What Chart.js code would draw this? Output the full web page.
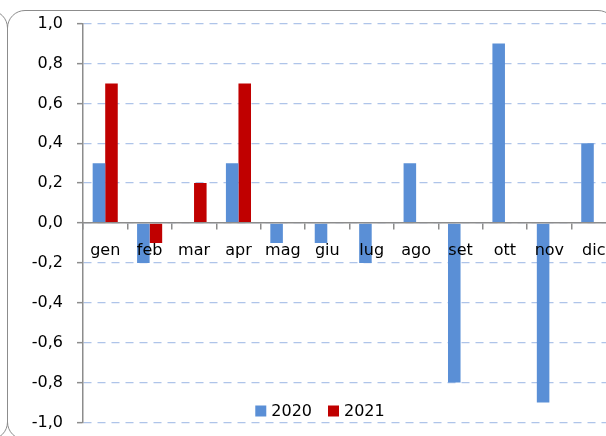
<!DOCTYPE html>
<html>
<head>
<meta charset="utf-8">
<script src="https://cdn.jsdelivr.net/npm/chart.js@4"></script>
<style>
    html, body { margin: 0; padding: 0; background: #fff; overflow: hidden; }
    #stage { position: relative; width: 606px; height: 436px; overflow: hidden; }
    .frame { position: absolute; border: 1.5px solid #8c8c8c; border-radius: 18px; box-sizing: border-box; }
    #frame-left { left: -620px; top: 10px; width: 628px; height: 430px; }
    #frame-main { left: 7px; top: 10px; width: 609px; height: 430px; }
    #chart-box { position: absolute; left: 0; top: 0; width: 640px; height: 446px; }
</style>
</head>
<body>
<div id="stage">
    <div class="frame" id="frame-left"></div>
    <div class="frame" id="frame-main"></div>
    <div id="chart-box"><canvas id="chart"></canvas></div>
</div>
<script>
// Chart data
const months = ['gen', 'feb', 'mar', 'apr', 'mag', 'giu', 'lug', 'ago', 'set', 'ott', 'nov', 'dic'];
const values2020 = [0.3, -0.2, 0, 0.3, -0.1, -0.1, -0.2, 0.3, -0.8, 0.9, -0.9, 0.4];
const values2021 = [0.7, -0.1, 0.2, 0.7, null, null, null, null, null, null, null, null];
const seriesLabels = ['2020', '2021'];
const yTicks = [-1.0, -0.8, -0.6, -0.4, -0.2, 0.0, 0.2, 0.4, 0.6, 0.8, 1.0];

const FONT_FAMILY = '"DejaVu Sans", sans-serif';
const FONT_SIZE = 16;

// Legend drawn inside the plot area, near the bottom
const bottomLegend = {
    id: 'bottomLegend',
    afterDraw(chart, args, opts) {
        const ctx = chart.ctx;
        ctx.save();
        ctx.font = FONT_SIZE + 'px ' + FONT_FAMILY;
        ctx.textBaseline = 'middle';
        const items = chart.data.datasets.map(ds => ({ text: ds.label, color: ds.backgroundColor }));
        const widths = items.map(it => opts.boxSize + opts.gap + ctx.measureText(it.text).width);
        const total = widths.reduce((a, b) => a + b, 0) + opts.itemGap * (items.length - 1);
        let x = opts.centerX - total / 2;
        items.forEach((it, i) => {
            ctx.fillStyle = it.color;
            ctx.fillRect(x, opts.centerY - opts.boxSize / 2, opts.boxSize, opts.boxSize);
            ctx.fillStyle = '#000';
            ctx.fillText(it.text, x + opts.boxSize + opts.gap, opts.centerY + 1);
            x += widths[i] + opts.itemGap;
        });
        ctx.restore();
    }
};

const ctx = document.getElementById('chart').getContext('2d');
const chart = new Chart(ctx, {
    type: 'bar',
    data: {
        labels: months,
        datasets: [
            {
                label: seriesLabels[0],
                data: values2020,
                backgroundColor: '#5a8fd6',
                categoryPercentage: 0.565,
                barPercentage: 1.0
            },
            {
                label: seriesLabels[1],
                data: values2021,
                backgroundColor: '#c00000',
                categoryPercentage: 0.565,
                barPercentage: 1.0
            }
        ]
    },
    options: {
        responsive: true,
        maintainAspectRatio: false,
        animation: false,
        layout: {
            padding: { left: 0, right: 24, top: 23, bottom: 4 }
        },
        scales: {
            x: {
                position: { y: 0 },
                offset: true,
                grid: {
                    offset: true,
                    drawOnChartArea: false,
                    drawTicks: true,
                    tickLength: 6,
                    color: '#8c8c8c',
                    lineWidth: 1.5
                },
                border: { color: '#8c8c8c', width: 1.5, z: 1 },
                ticks: {
                    z: 1,
                    color: '#000',
                    font: { family: FONT_FAMILY, size: FONT_SIZE },
                    padding: 12,
                    autoSkip: false,
                    maxRotation: 0
                }
            },
            y: {
                min: yTicks[0],
                max: yTicks[yTicks.length - 1],
                afterFit(scale) { scale.width = 83; },
                afterBuildTicks(scale) { scale.ticks = yTicks.map(v => ({ value: v })); },
                grid: {
                    color: '#aec4e9',
                    lineWidth: 1.3,
                    tickColor: '#8c8c8c',
                    tickLength: 6,
                    tickWidth: 1.5,
                    tickBorderDash: []
                },
                border: { color: '#8c8c8c', width: 1.5, dash: [8, 6] },
                ticks: {
                    color: '#000',
                    font: { family: FONT_FAMILY, size: FONT_SIZE },
                    padding: 14,
                    callback: value => value.toFixed(1).replace('.', ',')
                }
            }
        },
        plugins: {
            legend: { display: false },
            tooltip: { enabled: false },
            bottomLegend: { centerX: 320, centerY: 411, boxSize: 11, gap: 5, itemGap: 16 }
        }
    },
    plugins: [bottomLegend]
});
</script>
</body>
</html>
